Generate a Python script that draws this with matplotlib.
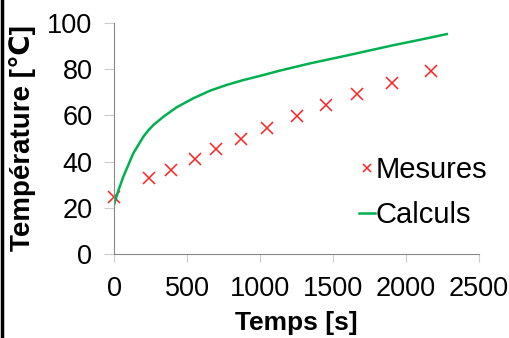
import matplotlib.pyplot as plt
from matplotlib.lines import Line2D

# Mesures
t_mes = [0, 242, 388, 552, 698, 872, 1050, 1251, 1452, 1662, 1904, 2171]
T_mes = [24.5, 32.8, 36.4, 41.0, 45.3, 49.9, 54.7, 59.6, 64.4, 69.1, 74.2, 79.1]

# Calculs
t_calc = [0, 30, 64, 100, 132, 170, 201, 235, 269, 338, 429, 543, 658, 772, 886,
          1000, 1137, 1342, 1600, 1900, 2100, 2279]
T_calc = [21.2, 27.5, 33.5, 38.8, 43.6, 47.5, 50.8, 53.5, 55.8, 59.4, 63.5, 67.4,
          70.7, 73.2, 75.3, 77.1, 79.4, 82.5, 86.0, 90.2, 92.8, 95.2]

plt.rcParams['font.family'] = ['Liberation Sans', 'DejaVu Sans']

fig = plt.figure(figsize=(5.09, 3.38), dpi=100)
ax = fig.add_axes([114/509, 1 - 254/338, (479 - 114)/509, (254 - 23)/338])

ax.plot(t_mes, T_mes, 'x', color='#ff2020', markersize=8, markeredgewidth=1.1,
        label='Mesures', clip_on=False)
ax.plot(t_calc, T_calc, '-', color='#00b050', linewidth=1.8, label='Calculs')

ax.set_xlim(0, 2500)
ax.set_ylim(0, 100)
ax.set_xticks(range(0, 2501, 500))
ax.set_yticks(range(0, 101, 20))

ax.spines['top'].set_visible(False)
ax.spines['right'].set_visible(False)
ax.spines['left'].set_color('#888888')
ax.spines['bottom'].set_color('#888888')
ax.tick_params(axis='both', direction='out', color='#cccccc', labelsize=19.5)
ax.tick_params(axis='y', length=7.5, pad=8)
ax.tick_params(axis='x', length=6, pad=10)

ax.set_xlabel('Temps [s]', fontsize=19, fontweight='bold')
ax.set_ylabel('Température [℃]', fontsize=20, fontweight='bold')
ax.xaxis.set_label_coords(0.5, -0.245)
ax.yaxis.set_label_coords(-0.215, 0.5)

ax.legend(loc='upper left', bbox_to_anchor=(0.672, 0.425), frameon=False,
          fontsize=21, handlelength=0.55, handletextpad=0.02, labelspacing=0.6,
          borderpad=0, borderaxespad=0, markerscale=0.8)

# trait noir au bord gauche
fig.add_artist(Line2D([0.003, 0.003], [0, 1], color='black', linewidth=2.5,
                      transform=fig.transFigure))

fig.savefig('out.png', dpi=100)
